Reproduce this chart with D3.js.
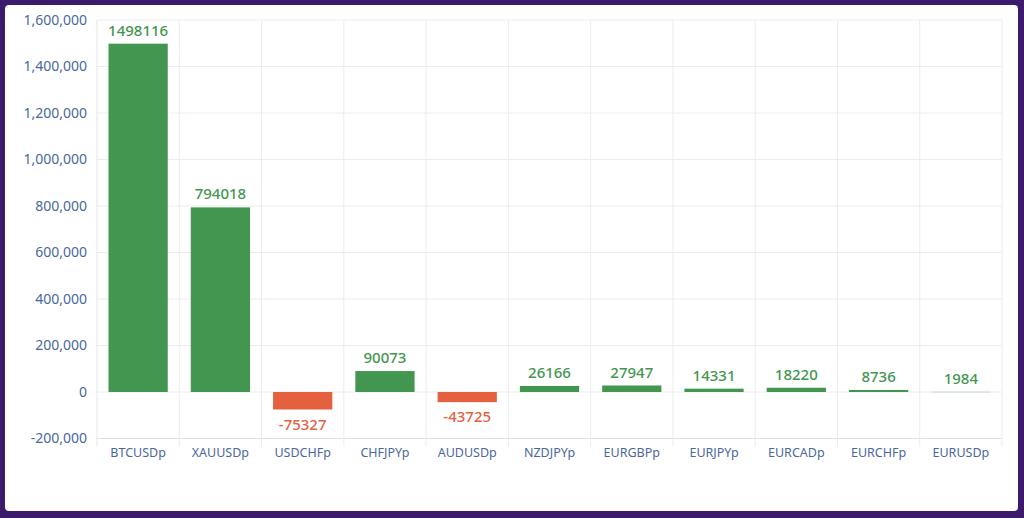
<!DOCTYPE html>
<html>
<head>
<meta charset="utf-8">
<script src="https://cdn.jsdelivr.net/npm/d3@7"></script>
<style>
  html, body { margin: 0; padding: 0; background: #3c1a6c; }
  svg { display: block; }
</style>
</head>
<body>
<script>
// chart values
const symbols = ["BTCUSDp", "XAUUSDp", "USDCHFp", "CHFJPYp", "AUDUSDp", "NZDJPYp",
                 "EURGBPp", "EURJPYp", "EURCADp", "EURCHFp", "EURUSDp"];
const profits = [1498116, 794018, -75327, 90073, -43725, 26166, 27947, 14331, 18220, 8736, 1984];
const yTicks = [-200000, 0, 200000, 400000, 600000, 800000, 1000000, 1200000, 1400000, 1600000];

const width = 1024, height = 518,
      margin = { top: 20, right: 22, bottom: 80, left: 97 },
      green = "#43964f", red = "#e4603f", tickColor = "#4a67a0",
      font = "'Noto Sans', 'Open Sans', sans-serif";

const svg = d3.select("body").append("svg")
    .attr("width", width)
    .attr("height", height);

// white card on purple frame
svg.append("rect")
    .attr("x", 5).attr("y", 5)
    .attr("width", width - 11).attr("height", height - 12)
    .attr("rx", 4)
    .attr("fill", "#ffffff");

const g = svg.append("g")
    .attr("transform", `translate(${margin.left},${margin.top})`);

const innerW = width - margin.left - margin.right,
      innerH = 438.5 - margin.top;

const x = d3.scaleBand().domain(symbols).range([0, innerW]).paddingInner(0.28).paddingOuter(0.14);
const xCell = d3.scaleBand().domain(symbols).range([0, innerW]);
const y = d3.scaleLinear().domain([-200000, 1600000]).range([innerH, 0]);

// horizontal grid
g.append("g")
    .selectAll("line")
    .data(yTicks)
    .enter().append("line")
    .attr("x1", 0).attr("x2", innerW)
    .attr("y1", d => y(d)).attr("y2", d => y(d))
    .attr("stroke", d => d === -200000 ? "#dde1e6" : "#ececec")
    .attr("stroke-width", 1);

// vertical grid (cell boundaries), extended as ticks below axis
g.append("g")
    .selectAll("line")
    .data(symbols)
    .enter().append("line")
    .attr("x1", d => xCell(d) + xCell.bandwidth())
    .attr("x2", d => xCell(d) + xCell.bandwidth())
    .attr("y1", 0).attr("y2", innerH + 8)
    .attr("stroke", "#ececec");

g.append("line")
    .attr("x1", 0).attr("x2", 0)
    .attr("y1", 0).attr("y2", innerH + 8)
    .attr("stroke", "#e2e5e9");

// y axis labels
const fmt = d3.format(",");
const yAxis = d3.axisLeft(y).tickValues(yTicks).tickSize(0).tickPadding(10)
    .tickFormat(d => fmt(d).replace("\u2212", "-"));
const ya = g.append("g").call(yAxis);
ya.select(".domain").remove();
ya.selectAll("text")
    .attr("fill", tickColor)
    .style("font-family", font)
    .style("font-size", "14px");

// x axis labels
const xAxis = d3.axisBottom(xCell).tickSize(0).tickPadding(10);
const xa = g.append("g").attr("transform", `translate(0,${innerH})`).call(xAxis);
xa.select(".domain").remove();
xa.selectAll("text")
    .attr("fill", tickColor)
    .style("font-family", font)
    .style("font-size", "12.5px");

const data = symbols.map((s, i) => ({ symbol: s, value: profits[i] }));

// bars
g.selectAll(".bar")
    .data(data)
    .enter().append("rect")
    .attr("class", "bar")
    .attr("x", d => x(d.symbol))
    .attr("width", x.bandwidth())
    .attr("y", d => y(Math.max(0, d.value)))
    .attr("height", d => Math.max(1, Math.abs(y(d.value) - y(0))))
    .attr("fill", d => d.value >= 0 ? green : red)
    .attr("fill-opacity", d => Math.abs(y(d.value) - y(0)) < 1 ? 0.25 : 1);

// value labels
g.selectAll(".val")
    .data(data)
    .enter().append("text")
    .attr("class", "val")
    .attr("x", d => x(d.symbol) + x.bandwidth() / 2)
    .attr("y", d => d.value >= 0 ? y(d.value) - 8 : y(d.value) + 20)
    .attr("text-anchor", "middle")
    .attr("fill", d => d.value >= 0 ? green : red)
    .style("font-family", font)
    .style("font-size", "15px")
    .style("font-weight", "500")
    .text(d => d.value);
</script>
</body>
</html>
